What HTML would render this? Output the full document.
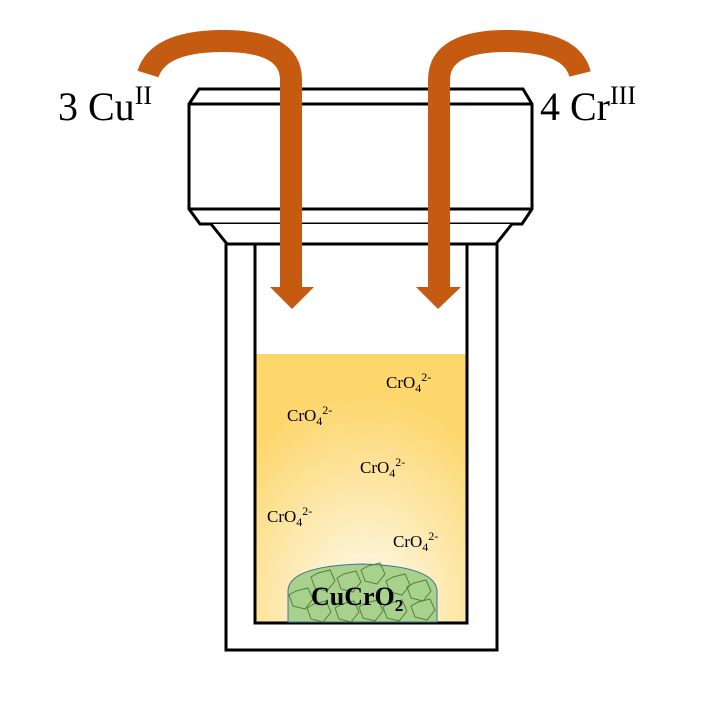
<!DOCTYPE html>
<html><head><style>
body{margin:0;background:#fff}
svg{display:block}
text{font-family:"Liberation Serif",serif}
</style></head><body>
<svg width="706" height="706" viewBox="0 0 706 706" xmlns="http://www.w3.org/2000/svg">
<defs>
<radialGradient id="liq" cx="0.52" cy="0.95" r="0.8">
<stop offset="0" stop-color="#e8e6de"/>
<stop offset="0.25" stop-color="#fdf3d2"/>
<stop offset="1" stop-color="#fdd66c"/>
</radialGradient>
</defs>
<rect x="255" y="354" width="212" height="268" fill="url(#liq)"/>
<path d="M226 244 V650 H497 V244" fill="none" stroke="#000" stroke-width="3"/>
<path d="M255 244 V623 H467 V244" fill="none" stroke="#000" stroke-width="3"/>
<path d="M199 89 H523 L532 104 V209 L522 224 H200 L189 209 V104 Z" fill="#fff" stroke="#000" stroke-width="3"/>
<line x1="189" y1="104" x2="532" y2="104" stroke="#000" stroke-width="3"/>
<line x1="189" y1="209" x2="532" y2="209" stroke="#000" stroke-width="3"/>
<path d="M211 224 L227 244 H496 L512 224" fill="#fff" stroke="#000" stroke-width="3"/>
<path d="M288 622 V590 Q290 566 362 564 Q434 566 437 590 V622 Z" fill="#a9d18e" stroke="#41719c" stroke-width="1"/>
<g fill="none" stroke="#548235" stroke-width="1">
<polygon points="318,573 330,570 335,581 327,591 315,588 311,577"/>
<polygon points="344,574 356,571 361,582 353,592 341,589 337,578"/>
<polygon points="368,566 380,563 385,574 377,584 365,581 361,570"/>
<polygon points="393,577 405,574 410,585 402,595 390,592 386,581"/>
<polygon points="414,583 426,580 431,591 423,601 411,598 407,587"/>
<polygon points="296,591 308,588 313,599 305,609 293,606 289,595"/>
<polygon points="314,604 326,601 331,612 323,622 311,619 307,608"/>
<polygon points="342,604 354,601 359,612 351,622 339,619 335,608"/>
<polygon points="366,603 378,600 383,611 375,621 363,618 359,607"/>
<polygon points="390,603 402,600 407,611 399,621 387,618 383,607"/>
<polygon points="418,602 430,599 435,610 427,620 415,617 411,606"/>
</g>
<text x="311" y="605" font-size="26" font-weight="bold">CuCrO<tspan font-size="17" dy="6">2</tspan></text>
<g font-size="17">
<text x="386" y="388">CrO<tspan font-size="12" dy="4">4</tspan><tspan font-size="12" dy="-11">2-</tspan></text>
<text x="287" y="421">CrO<tspan font-size="12" dy="4">4</tspan><tspan font-size="12" dy="-11">2-</tspan></text>
<text x="360" y="473">CrO<tspan font-size="12" dy="4">4</tspan><tspan font-size="12" dy="-11">2-</tspan></text>
<text x="267" y="522">CrO<tspan font-size="12" dy="4">4</tspan><tspan font-size="12" dy="-11">2-</tspan></text>
<text x="393" y="547">CrO<tspan font-size="12" dy="4">4</tspan><tspan font-size="12" dy="-11">2-</tspan></text>
</g>
<g fill="none" stroke="#c55a11" stroke-width="22">
<path d="M148 74 Q158 42 220 41 Q291 40 291 80 V290"/>
<path d="M439 290 V80 Q439 40 510 41 Q572 42 580 74"/>
</g>
<polygon points="270,287 314,287 292,309" fill="#c55a11"/>
<polygon points="416,287 461,287 438,309" fill="#c55a11"/>
<text x="58" y="120" font-size="40">3 Cu<tspan font-size="26" dy="-16">II</tspan></text>
<text x="540" y="120" font-size="40">4 Cr<tspan font-size="26" dy="-16">III</tspan></text>
</svg>
</body></html>
